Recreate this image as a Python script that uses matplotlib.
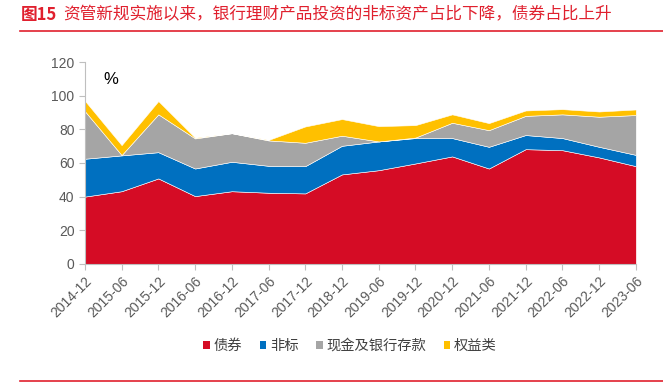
import matplotlib
matplotlib.use("Agg")
import matplotlib.pyplot as plt
from matplotlib.lines import Line2D
from matplotlib.patches import Patch

plt.rcParams["font.family"] = ["Noto Sans CJK SC", "DejaVu Sans"]

dates = ["2014-12", "2015-06", "2015-12", "2016-06", "2016-12", "2017-06",
         "2017-12", "2018-12", "2019-06", "2019-12", "2020-12", "2021-06",
         "2021-12", "2022-06", "2022-12", "2023-06"]
bonds = [40.0, 43.2, 50.8, 40.3, 43.2, 42.3, 41.9, 53.2, 55.7, 59.7, 63.9, 56.7, 68.2, 67.6, 63.3, 58.1]
non_std = [22.5, 21.3, 15.6, 16.4, 17.5, 16.0, 16.2, 17.0, 17.1, 15.1, 10.9, 12.9, 8.4, 7.2, 6.3, 6.7]
cash = [28.3, 0.2, 22.5, 17.9, 17.0, 15.1, 13.9, 6.0, 0.0, 0.3, 9.1, 9.9, 11.4, 14.1, 17.9, 23.7]
equity = [6.2, 5.9, 7.9, 0.4, 0.0, 0.3, 9.7, 9.9, 9.1, 7.4, 5.0, 4.2, 3.2, 3.1, 3.1, 3.3]

names = ["债券", "非标", "现金及银行存款", "权益类"]
colors = ["#D50C25", "#0070C0", "#A5A5A5", "#FFC000"]
title_red = "#E0202E"

fig = plt.figure(figsize=(6.63, 3.83), dpi=100)
ax = fig.add_axes([0.128, 0.311, 0.831, 0.527])

x = list(range(len(dates)))
ax.stackplot(x, bonds, non_std, cash, equity, colors=colors, linewidth=0.4,
             edgecolor="white")

ax.set_xlim(0, len(dates) - 1)
ax.set_ylim(0, 120)
ax.set_yticks(range(0, 121, 20))
ax.set_xticks(x)
ax.set_xticklabels(dates, rotation=45, ha="right", rotation_mode="anchor")
ax.tick_params(axis="both", colors="#BFBFBF", labelcolor="#595959", labelsize=10,
               length=4, width=0.8)
for lab in ax.get_xticklabels() + ax.get_yticklabels():
    lab.set_family(["Liberation Sans", "DejaVu Sans"])
for side in ("top", "right"):
    ax.spines[side].set_visible(False)
for side in ("left", "bottom"):
    ax.spines[side].set_color("#BFBFBF")
    ax.spines[side].set_linewidth(0.8)

ax.text(0.033, 0.95, "%", transform=ax.transAxes, fontsize=12, va="top",
        color="black", family=["Liberation Sans", "DejaVu Sans"])

handles = [Patch(facecolor=c, edgecolor="none") for c in colors]
fig.legend(handles, names, loc="center", bbox_to_anchor=(0.528, 0.097), ncol=4,
           frameon=False, fontsize=10.3, handlelength=0.45, handleheight=0.45,
           handletextpad=0.25, columnspacing=1.25, labelcolor="#404040")

fig.text(0.031, 0.962, "图15", color=title_red, fontsize=12, fontweight="bold", va="center")
fig.text(0.095, 0.962, "资管新规实施以来，银行理财产品投资的非标资产占比下降，债券占比上升",
         color=title_red, fontsize=12, va="center")
fig.add_artist(Line2D([0.03, 1.0], [0.919, 0.919], color=title_red, linewidth=1.2))
fig.add_artist(Line2D([0.03, 1.0], [0.005, 0.005], color=title_red, linewidth=1.2))

fig.savefig("out.png", dpi=100)
